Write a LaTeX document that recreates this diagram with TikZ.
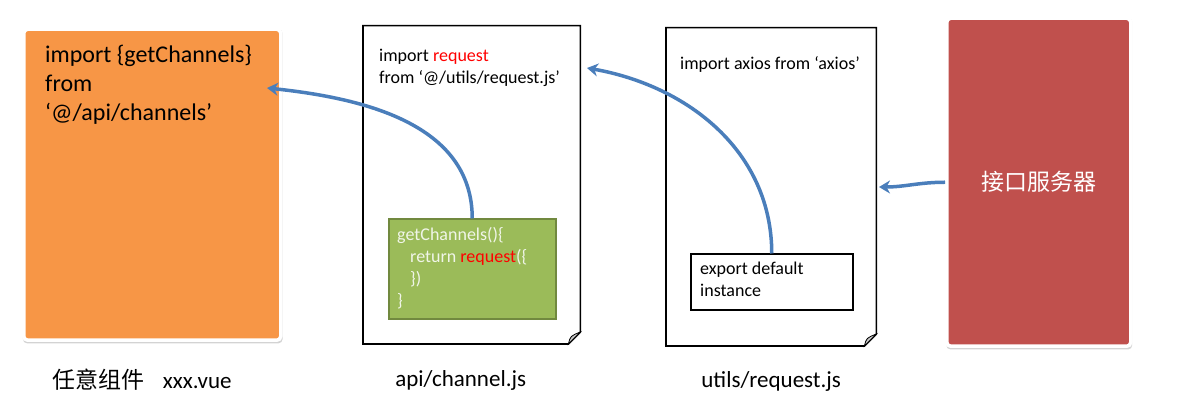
\documentclass[tikz,border=0pt]{standalone}
\usepackage{fontspec}
\setmainfont{Carlito}
\newfontfamily\cjk{Noto Sans CJK SC}
\usetikzlibrary{%
	positioning,
	arrows.meta,
	shadows
}

\definecolor{vueorange}{RGB}{247,150,70}
\definecolor{serverred}{RGB}{192,80,77}
\definecolor{apigreen}{RGB}{155,187,89}
\definecolor{apigreenline}{RGB}{113,137,63}
\definecolor{flowblue}{RGB}{74,126,187}
\definecolor{keyred}{RGB}{255,0,0}
\definecolor{greentext}{RGB}{240,245,232}

% page with folded corner round a node
\newcommand{\pageoutline}[1]{%
	\draw[line width=1.6pt] (#1.north west) -- (#1.north east) -- ([yshift=12pt]#1.south east) -- ([xshift=-12pt]#1.south east) -- (#1.south west) -- cycle;
	\draw[line width=.8pt, fill=gray!45] ([xshift=-12pt]#1.south east) .. controls ([xshift=-10pt,yshift=8pt]#1.south east) .. ([yshift=12pt]#1.south east) -- cycle;
}

\begin{document}
\begin{tikzpicture}[x=1pt,y=1pt,
		SCard/.style={shape=rectangle,rounded corners=4pt,draw=white,line width=3.5pt,drop shadow={shadow xshift=.5pt,shadow yshift=-1.5pt,shadow scale=1.01,opacity=.35},inner sep=0pt},
		SPage/.style={shape=rectangle,inner sep=0pt,minimum height=318pt},
		code/.style={inner sep=0pt,align=left,font=\fontsize{18}{22}\selectfont},
		filelabel/.style={inner sep=0pt,font=\fontsize{23}{28}\selectfont},
		flow/.style={draw=flowblue,line width=3.5pt,-{Stealth[length=11pt,width=13pt]}}
	]
	\useasboundingbox (0,0) rectangle (1180,414);
	
	%vue component
	\node(vue) [SCard, fill=vueorange, minimum width=257pt, minimum height=311pt, anchor=south west] at (22,72) {};
	\node(vue-code) [code, font=\fontsize{24}{29}\selectfont, below right=17pt and 23pt of vue.north west, anchor=north west] {import \{getChannels\}\\from\\‘@/api/channels’};
	\node(vue-label) [filelabel, below=47pt of vue.south, anchor=base, xshift=-10pt] {{\cjk 任意组件}\hspace{18pt}xxx.vue};
	\coordinate(vue-tip) at (267,326);
	
	%api/channel.js
	\node(api) [SPage, minimum width=217pt, anchor=south west] at (363,70) {};
	\pageoutline{api}
	\node(api-code) [code, below right=23pt and 16pt of api.north west, anchor=north west] {import \textcolor{keyred}{request}\\from ‘@/utils/request.js’};
	\node(chan) [draw=apigreenline, fill=apigreen, line width=1.5pt, minimum width=167pt, minimum height=100pt, anchor=south west] at (388,94) {};
	\node(chan-code) [code, text=greentext, below right=9pt and 9pt of chan.north west, anchor=north west] {getChannels()\{\\\hspace*{13pt}return \textcolor{keyred}{request}(\{\\\hspace*{13pt}\})\\\}};
	\node(api-label) [filelabel, below=43pt of api.south, anchor=base, xshift=-11pt] {api/channel.js};
	\coordinate(api-tip) at (587,346);
	
	%utils/request.js
	\node(utils) [SPage, minimum width=210pt, anchor=south west] at (666,68) {};
	\pageoutline{utils}
	\node(utils-code) [code, below right=29pt and 14pt of utils.north west, anchor=north west] {import axios from ‘axios’};
	\node(export) [draw, line width=1.5pt, minimum width=162pt, minimum height=56pt, anchor=south west] at (690,103) {};
	\node(export-code) [code, below right=8pt and 10pt of export.north west, anchor=north west] {export default\\instance};
	\node(utils-label) [filelabel, below=42pt of utils.south, anchor=base] {utils/request.js};
	\coordinate(utils-tip) at (879,227);
	
	%server
	\node(server) [SCard, fill=serverred, text=white, font=\cjk\fontsize{23}{28}\selectfont, minimum width=184pt, minimum height=328pt, anchor=south west] at (945,66) {接口服务器};
	
	\draw [flow] (chan.north) to [out=90, in=-6] (vue-tip);
	\draw [flow] (export.north) to [out=90, in=-10] (api-tip);
	\draw [flow] (server.west) to [out=180, in=0] (utils-tip);
	
\end{tikzpicture}
\end{document}
